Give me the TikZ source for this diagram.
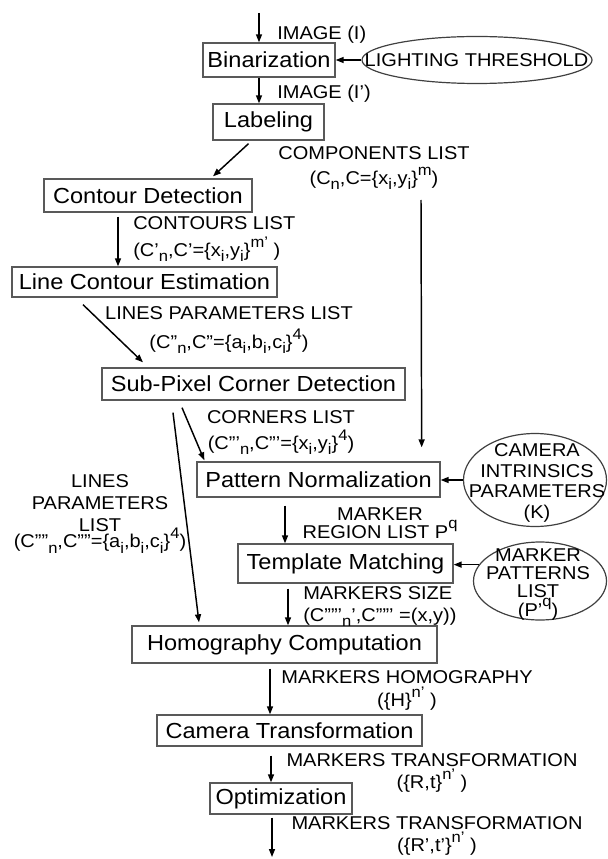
\documentclass[tikz,border=0pt]{standalone}
\usepackage{fontspec}
\setmainfont{Liberation Sans}[FakeStretch=1.08]
\usetikzlibrary{arrows.meta,calc,shapes.geometric}
\newcommand{\lsb}[1]{\smash{\raisebox{-4pt}{\fontsize{11.5}{12}\selectfont #1}}}
\newcommand{\lsp}[1]{\smash{\raisebox{7pt}{\fontsize{11.5}{12}\selectfont #1}}}
\begin{document}
\begin{tikzpicture}[x=0.75pt,y=-0.75pt,
  box/.style 2 args={draw=black!65,line width=1pt,inner sep=0pt,
    minimum width=#1*0.75pt,minimum height=#2*0.75pt,
    font=\fontsize{16.35}{18}\selectfont},
  oval/.style 2 args={draw=black!75,line width=0.9pt,ellipse,inner sep=0pt,
    minimum width=#1*0.75pt,minimum height=#2*0.75pt},
  lbl/.style={inner sep=0pt,align=center,font=\fontsize{13.9}{#1}\selectfont},
  lbl/.default=16.5,
  arr/.style={draw=black,line width=1.1pt,-{Triangle[length=6pt,width=4.5pt]}}]
\useasboundingbox (0,0) rectangle (607,859);

% process boxes
\node[box={132}{34}]  (bin)  at (269,60)    {Binarization};
\node[box={111}{36}]  (lab)  at (268.5,122) {Labeling};
\node[box={208}{33}]  (cd)   at (148,195.5) {Contour Detection};
\node[box={265}{30}]  (lce)  at (144.5,282) {Line Contour Estimation};
\node[box={303}{32}]  (spcd) at (253.5,384) {Sub-Pixel Corner Detection};
\node[box={243}{35}]  (pn)   at (318.5,479.5) {Pattern Normalization};
\node[box={215}{39}]  (tm)   at (345.5,563.5) {Template Matching};
\node[box={305}{37}]  (hc)   at (284.5,644.5) {Homography Computation};
\node[box={265}{31}]  (ct)   at (289.5,730.5) {Camera Transformation};
\node[box={142}{31}]  (opt)  at (281,798.5) {Optimization};

% input ellipses
\node[oval={230}{47}] (lt)  at (477,60) {};
\node[oval={143}{93}] (cam) at (535,480) {};
\node[oval={133}{78}] (mp)  at (540,581) {};
\node[lbl] (ltt) at (476.5,60) {LIGHTING THRESHOLD};
\node[lbl=15.5,anchor=north] (camt) at (537,443.3) {CAMERA\\INTRINSICS\\PARAMETERS\\(K)};
\node[lbl=13.75,anchor=north] (mpt) at (538,548.3) {MARKER\\PATTERNS\\LIST\\(P'\lsp{q})};

% labels
\node[lbl,anchor=base west] (img1) at (277,39.5) {IMAGE (I)};
\node[lbl,anchor=base west] (img2) at (277,98.5) {IMAGE (I')};
\node[lbl=18.75,anchor=north] (comp) at (374,146.3)
  {COMPONENTS LIST\\(C\lsb{n},C=\{x\lsb{i},y\lsb{i}\}\lsp{m})};
\node[lbl=20.25,anchor=north west,align=left] (cont) at (133,216.3)
  {CONTOURS LIST\\(C'\lsb{n},C'=\{x\lsb{i},y\lsb{i}\}\lsp{m'} )};
\node[lbl=21.75,anchor=north] (lpl) at (229,306.3)
  {LINES PARAMETERS LIST\\(C''\lsb{n},C''=\{a\lsb{i},b\lsb{i},c\lsb{i}\}\lsp{4})};
\node[lbl=19.5,anchor=north] (corn) at (281,410.3)
  {CORNERS LIST\\(C'''\lsb{n},C'''=\{x\lsb{i},y\lsb{i}\}\lsp{4})};
\node[lbl=16.5,anchor=north] (lpl2) at (100,474.7)
  {LINES\\PARAMETERS\\LIST\\[-4.5pt](C''''\lsb{n},C''''=\{a\lsb{i},b\lsb{i},c\lsb{i}\}\lsp{4})};
\node[lbl=13.5,anchor=north] (mreg) at (380,507)
  {MARKER\\REGION LIST P\lsp{q}};
\node[lbl=16.5,anchor=north west,align=left] (msize) at (303,586.3)
  {MARKERS SIZE\\(C'''''\lsb{n}',C''''' =(x,y))};
\node[lbl=17.25,anchor=north] (mhom) at (407,670.3)
  {MARKERS HOMOGRAPHY\\(\{H\}\lsp{n'} )};
\node[lbl=16.5,anchor=north] (mtr1) at (432,753.3)
  {MARKERS TRANSFORMATION\\(\{R,t\}\lsp{n'} )};
\node[lbl=16.5,anchor=north] (mtr2) at (437,816.3)
  {MARKERS TRANSFORMATION\\(\{R',t'\}\lsp{n'} )};

% connectors
\coordinate (in) at (259,13);
\coordinate (cl) at (421,200);
\coordinate (out) at (272,857);
\draw[arr] (in) -- (bin.north -| in);
\draw[arr] (bin.south -| in) -- (lab.north -| in);
\draw[arr] (lt.west) -- (bin.east);
\draw[arr] ($(lab.south)+(-20,3)$) -- ($(cd.north)+(65,-2)$);
\draw[arr] (cl) -- ($(pn.north east)+(-19,-14)$);
\draw[arr] ($(cd.south)+(-30,4)$) -- ($(lce.north)+(-26.5,0)$);
\draw[arr] ($(lce.south)+(-61.5,7)$) -- ($(spcd.north)+(-110.5,-5)$);
\draw[arr] ($(spcd.south)+(-71.5,7)$) -- ($(pn.north west)+(8,-1)$);
\draw[arr] ($(spcd.south)+(-80.5,12)$) -- ($(hc.north)+(-85.5,-3)$);
\draw[arr] (cam.west) -- (pn.east |- cam.west);
\draw[arr] (mp.165) -- (tm.east |- mp.165);
\draw[arr] ($(pn.south)+(-33.5,8)$) -- ($(tm.north)+(-60.5,0)$);
\draw[arr] ($(tm.south)+(-57.5,5)$) -- ($(hc.north)+(3.5,0)$);
\draw[arr] ($(hc.south)+(-14.5,5)$) -- ($(ct.north)+(-19.5,0)$);
\draw[arr] ($(ct.south)+(-18.5,9)$) -- ($(opt.north)+(-10,0)$);
\draw[arr] ($(opt.south)+(-9,3)$) -- (out);
\end{tikzpicture}
\end{document}
